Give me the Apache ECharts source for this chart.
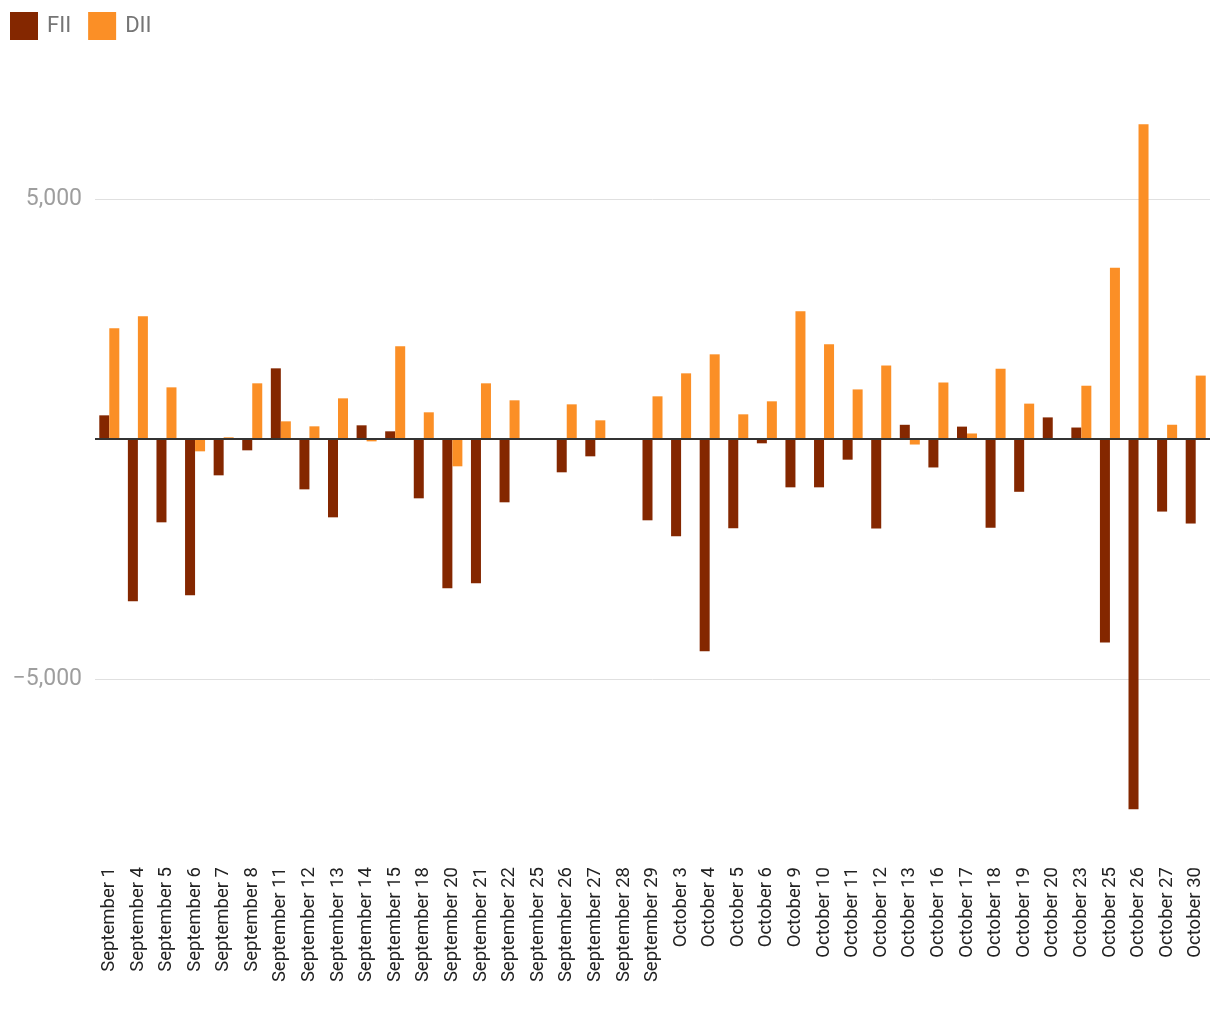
<!DOCTYPE html>
<html>
<head>
<meta charset="utf-8">
<script src="https://cdn.jsdelivr.net/npm/echarts@6/dist/echarts.min.js"></script>
<style>html,body{margin:0;padding:0;background:#fff;}#c{width:1220px;height:1020px;}</style>
</head>
<body>
<div id="c"></div>
<script>
const categories = ["September 1","September 4","September 5","September 6","September 7","September 8","September 11","September 12","September 13","September 14","September 15","September 18","September 20","September 21","September 22","September 25","September 26","September 27","September 28","September 29","October 3","October 4","October 5","October 6","October 9","October 10","October 11","October 12","October 13","October 16","October 17","October 18","October 19","October 20","October 23","October 25","October 26","October 27","October 30"];
const fii = [493,-3382,-1736,-3257,-757,-236,1472,-1049,-1632,285,160,-1236,-3111,-3007,-1319,0,-694,-361,0,-1694,-2028,-4423,-1861,-90,-1007,-1007,-431,-1866,296,-593,258,-1847,-1100,450,239,-4240,-7713,-1512,-1761];
const dii = [2306,2556,1076,-257,35,1160,368,264,847,-49,1931,556,-569,1160,806,0,722,389,0,889,1368,1764,514,785,2660,1972,1033,1531,-115,1177,115,1464,737,0,1110,3569,6555,297,1321];
const gridValues = [5000,-5000];

const chart = echarts.init(document.getElementById('c'));
chart.setOption({
  animation: false,
  textStyle: {fontFamily: 'Roboto'},
  legend: {
    data: ['FII','DII'], left: 10, top: 12, padding: 0, itemWidth: 28, itemHeight: 28, itemGap: 17,
    icon: 'rect',
    textStyle: {fontSize: 22, color: '#757575', fontFamily: 'Roboto', padding: [0,0,0,4]}
  },
  grid: {left: 95, right: 10, top: 79, bottom: 173, containLabel: false},
  xAxis: {
    type: 'category', data: categories,
    axisLine: {show: false, onZero: false},
    axisTick: {show: false},
    axisLabel: {rotate: 90, interval: 0, fontSize: 18.5, color: '#222', margin: 20, fontFamily: 'Roboto'}
  },
  yAxis: {
    type: 'value', min: -8500, max: 7500, interval: 500,
    splitLine: {show: false}, axisLine: {show: false}, axisTick: {show: false},
    axisLabel: {
      margin: 13, fontSize: 23, color: '#9e9e9e', fontFamily: 'Roboto',
      formatter: v => (v === 5000 ? '5,000' : (v === -5000 ? '\u22125,000' : ''))
    }
  },
  series: [
    {name: 'grid', type: 'line', data: [], z: 1, silent: true,
      markLine: {z: 1, silent: true, symbol: 'none', label: {show: false},
        lineStyle: {color: '#e0e0e0', width: 1, type: 'solid'},
        data: gridValues.map(v => ({yAxis: v}))}},
    {name: 'FII', type: 'bar', data: fii, barGap: '0%', barCategoryGap: '30%', itemStyle: {color: '#842700'}, z: 2},
    {name: 'DII', type: 'bar', data: dii, itemStyle: {color: '#fb8f26'}, z: 2},
    {name: 'zero', type: 'line', data: [], z: 5, silent: true,
      markLine: {z: 5, silent: true, symbol: 'none', label: {show: false},
        lineStyle: {color: '#333', width: 2, type: 'solid'},
        data: [{yAxis: 0}]}}
  ]
});
</script>
</body>
</html>
